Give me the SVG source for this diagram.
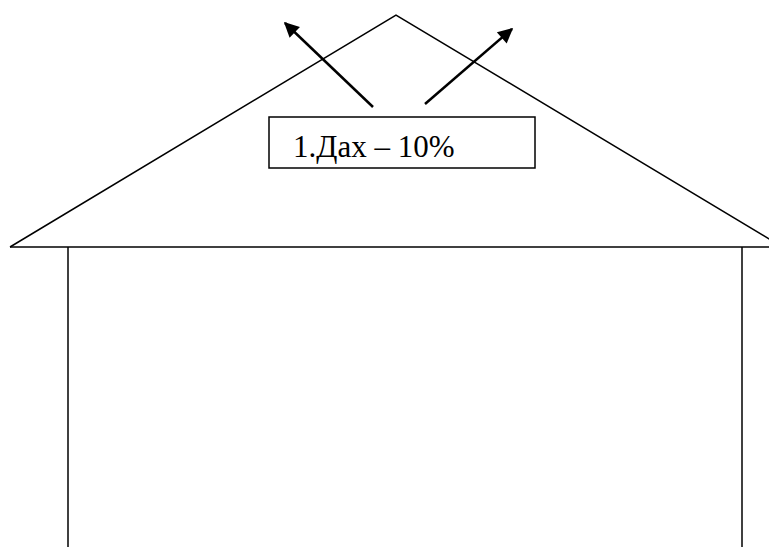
<svg xmlns="http://www.w3.org/2000/svg" width="769" height="547" viewBox="0 0 769 547">
<style>
.ln{stroke:#000;stroke-width:1.5;fill:none}
.ar{stroke:#000;stroke-width:2.5;fill:none;marker-end:url(#ah)}
.lbl{font-family:"Liberation Serif","Times New Roman",serif;font-size:31px;fill:#000}
</style>
<defs>
<marker id="ah" viewBox="0 0 10 10" refX="9" refY="5" markerWidth="7" markerHeight="6" markerUnits="strokeWidth" orient="auto">
<path d="M0,0 L10,5 L0,10 z" fill="#000"/>
</marker>
</defs>
<rect width="769" height="547" fill="#fff"/>
<g id="house">
<polyline class="ln" points="10,247 396,15 781,246"/>
<line class="ln" x1="10" y1="247" x2="769" y2="247"/>
<line class="ln" x1="68" y1="247" x2="68" y2="547"/>
<line class="ln" x1="742" y1="247" x2="742" y2="547"/>
</g>
<g id="connectors">
<line class="ar" x1="373" y1="107" x2="285" y2="23"/>
<line class="ar" x1="425" y1="104" x2="512" y2="29"/>
</g>
<g id="label">
<rect x="269" y="117" width="266" height="51" fill="#fff" stroke="#000" stroke-width="1.5"/>
<text class="lbl" x="293" y="157">1.Дах – 10%</text>
</g>
</svg>
